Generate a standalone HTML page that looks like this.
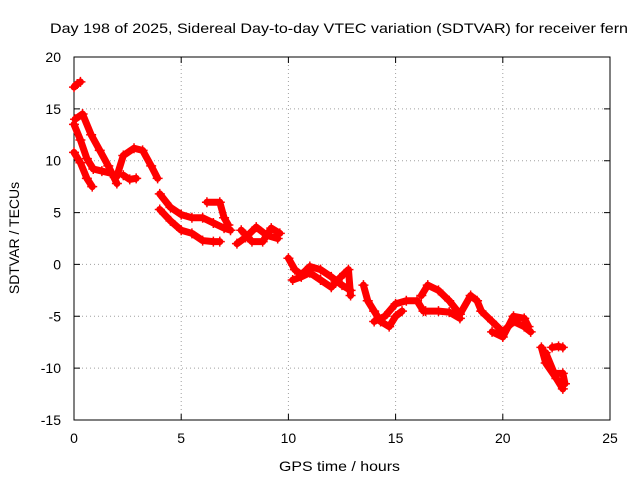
<!DOCTYPE html>
<html><head><meta charset="utf-8"><style>
body{margin:0;background:#fff;}
svg{display:block;font-family:"Liberation Sans",sans-serif;}
</style></head><body>
<svg id="c" width="640" height="480"></svg>
<script>
const xTicks=[0,5,10,15,20,25];
const yTicks=[20,15,10,5,0,-5,-10,-15];
const titleText="Day 198 of 2025, Sidereal Day-to-day VTEC variation (SDTVAR) for receiver fern";
const xLabel="GPS time / hours";
const yLabel="SDTVAR / TECUs";
const t1=[[0,17.1],[0.15,17.4],[0.3,17.6]];
const t2=[[0.05,14],[0.4,14.5],[0.8,12.5],[1.2,11],[1.6,9.5],[2,7.8]];
const t3=[[0,13.5],[0.3,12],[0.6,10.2],[0.9,9.2],[1.3,9],[1.7,8.8],[2,8.5]];
const t4=[[0,10.8],[0.3,9.8],[0.6,8.3],[0.85,7.5]];
const t5=[[2,8.5],[2.3,10.5],[2.8,11.2],[3.2,11],[3.6,9.5],[3.9,8.3]];
const t6=[[2.3,8.6],[2.6,8.2],[2.9,8.3]];
const t7=[[4,6.8],[4.5,5.5],[5,4.8],[5.5,4.5],[6,4.5],[6.5,4],[7,3.5],[7.3,3.3]];
const t8=[[4,5.3],[4.5,4.2],[5,3.3],[5.5,3],[6,2.3],[6.5,2.2],[6.8,2.2]];
const t9=[[6.2,6],[6.8,6],[7,4.5],[7.2,3.8]];
const t10=[[7.6,2],[8,2.6],[8.5,3.6],[9,2.8],[9.5,2.5]];
const t11=[[7.8,3.3],[8.3,2.2],[8.8,2.2],[9.2,3.5],[9.6,3]];
const t12=[[10,0.6],[10.3,-0.5],[10.6,-1],[11,-0.2],[11.5,-0.5],[12,-1.2],[12.5,-2],[12.9,-2.5]];
const t13=[[10.2,-1.5],[10.6,-1.2],[11,-0.8],[11.5,-1.5],[12,-2.2],[12.4,-1.3],[12.8,-0.5],[12.9,-3]];
const t14=[[13.5,-2],[13.7,-3.5],[14,-4.5],[14.3,-5.5],[14.7,-6],[15,-5],[15.3,-4.5]];
const t15=[[14,-5.5],[14.5,-5],[15,-3.8],[15.5,-3.5],[16,-3.5],[16.3,-4.5]];
const t16=[[16.2,-3],[16.5,-2],[17,-2.5],[17.5,-3.5],[18,-4.8],[18.5,-3],[18.8,-3.5],[19,-4.5]];
const t17=[[16.4,-4.5],[17,-4.5],[17.5,-4.6],[18,-5.2]];
const t18=[[19,-4.5],[19.5,-5.5],[20,-6.5],[20.5,-5.5],[21,-6],[21.3,-6.5]];
const t19=[[19.5,-6.5],[20,-7],[20.5,-5],[21,-5.2],[21.2,-6]];
const t20=[[21.8,-8],[22,-9.5],[22.5,-11],[22.8,-12]];
const t21=[[22.3,-8],[22.6,-7.9],[22.8,-8]];
const t22=[[22,-8.5],[22.4,-10.5],[22.8,-10.5],[22.9,-11.5]];
const tracks=[t1,t2,t3,t4,t5,t6,t7,t8,t9,t10,t11,t12,t13,t14,t15,t16,t17,t18,t19,t20,t21,t22];

const L=74,R=610,T=57,B=420;
const xs=v=>L+(v-0)/25*(R-L);
const ys=v=>B-(v+15)/35*(B-T);
const svg=document.getElementById('c');
const NS='http://www.w3.org/2000/svg';
function mk(tag,attrs,parent){const e=document.createElementNS(NS,tag);for(const k in attrs)e.setAttribute(k,attrs[k]);(parent||svg).appendChild(e);return e;}

xTicks.forEach(v=>{
  if(v>0&&v<25){const g=mk('line',{x1:xs(v),x2:xs(v),y1:T,y2:B,stroke:'#a0a0a0','stroke-dasharray':'1,3'});
  
  }
  const tk=mk('path',{d:`M${xs(v)},${B}v-6M${xs(v)},${T}v6`,stroke:'#000'});
  
  
  const t=mk('text',{x:xs(v),y:B+23,'text-anchor':'middle','font-size':'14'});t.textContent=v;
  
  
});
yTicks.forEach(v=>{
  if(v>-15&&v<20){const g=mk('line',{x1:L,x2:R,y1:ys(v),y2:ys(v),stroke:'#a0a0a0','stroke-dasharray':'1,3'});
  
  }
  const tk=mk('path',{d:`M${L},${ys(v)}h6M${R},${ys(v)}h-6`,stroke:'#000'});
  
  
  const t=mk('text',{x:L-13,y:ys(v)+5,'text-anchor':'end','font-size':'14'});t.textContent=v;
  
  
});
const border=mk('rect',{x:L,y:T,width:R-L,height:B-T,fill:'none',stroke:'#000'});



tracks.forEach(tr=>{
  const pl=mk('polyline',{points:tr.map(p=>xs(p[0])+','+ys(p[1])).join(' '),fill:'none',stroke:'#f00','stroke-width':7,'stroke-linejoin':'round','stroke-linecap':'round'});
  
  
  tr.forEach(p=>{
    const m=mk('path',{d:`M${xs(p[0])-5},${ys(p[1])}h10M${xs(p[0])},${ys(p[1])-5}v10`,stroke:'#f00','stroke-width':1.5});
    
    
  });
});

const tt=mk('text',{x:50,y:33,'font-size':'14',textLength:578,lengthAdjust:'spacingAndGlyphs'});tt.textContent=titleText;


const xl=mk('text',{x:279,y:471,'font-size':'14',textLength:121,lengthAdjust:'spacingAndGlyphs'});xl.textContent=xLabel;


const yl=mk('text',{x:19,y:238,'text-anchor':'middle','font-size':'14',transform:'rotate(-90 19 238)'});yl.textContent=yLabel;


</script>
</body></html>
